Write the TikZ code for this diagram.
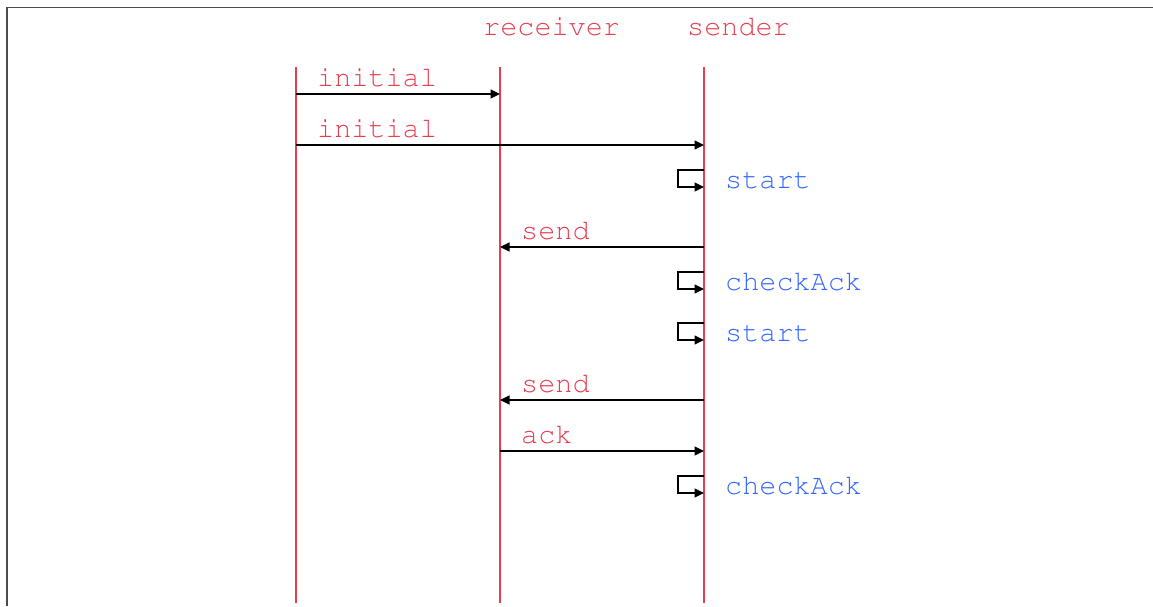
\documentclass[tikz,border=0pt]{standalone}
\usepackage[T1]{fontenc}
\usetikzlibrary{arrows.meta}
\definecolor{lifered}{RGB}{230,62,80}
\definecolor{selfblue}{RGB}{51,102,255}
\newcommand{\courfont}{\fontencoding{T1}\fontfamily{pcr}\fontseries{m}\fontshape{n}\fontsize{28.5}{32}\selectfont}
\begin{document}
\begin{tikzpicture}[x=1pt,y=-1pt,
  lifeline/.style={draw=lifered,line width=1.4pt},
  msg/.style={draw=black,line width=1.3pt,-{Triangle[length=9.5pt,width=9pt]}},
  msglabel/.style={font=\courfont,text=lifered,anchor=base west,inner sep=0pt},
  headlabel/.style={font=\courfont,text=lifered,anchor=base west,inner sep=0pt},
  selflabel/.style={font=\courfont,text=selfblue,anchor=base west,inner sep=0pt}]
\useasboundingbox (0,0) rectangle (1153,606);
% frame
\draw[draw=black!70,line width=1.6pt] (7,606) -- (7,7.5) -- (1153,7.5);
% lifelines
\coordinate (L1) at (296,67);
\coordinate (L2) at (500,67);
\coordinate (L3) at (704,67);
\coordinate (L1b) at (296,603);
\coordinate (L2b) at (500,603);
\coordinate (L3b) at (704,603);
\draw[lifeline] (L1) -- (L1b);
\draw[lifeline] (L2) -- (L2b);
\draw[lifeline] (L3) -- (L3b);
\node[headlabel] (hrecv) at (483,35) {receiver};
\node[headlabel] (hsend) at (687,35) {sender};
% rows
\coordinate (r1) at (0,94);
\coordinate (r2) at (0,145);
\coordinate (r3) at (0,196);
\coordinate (r4) at (0,247);
\coordinate (r5) at (0,298);
\coordinate (r6) at (0,349);
\coordinate (r7) at (0,400);
\coordinate (r8) at (0,451);
\coordinate (r9) at (0,502);
% messages
\draw[msg] (L1 |- r1) -- (L2 |- r1);
\node[msglabel] (m1) at (317,86) {initial};
\draw[msg] (L1 |- r2) -- (L3 |- r2);
\node[msglabel] (m2) at (317,137) {initial};
\draw[msg] (L3 |- r4) -- (L2 |- r4);
\node[msglabel] (m4) at (521,239) {send};
\draw[msg] (L3 |- r7) -- (L2 |- r7);
\node[msglabel] (m7) at (521,392) {send};
\draw[msg] (L2 |- r8) -- (L3 |- r8);
\node[msglabel] (m8) at (521,443) {ack};
% self messages
\foreach \r/\t [count=\i] in {r3/start,r5/checkAck,r6/start,r9/checkAck}{
  \draw[msg] ([yshift=26pt]L3 |- \r) -- ++(-26,0) -- ++(0,17) -- ++(26,0);
  \node[selflabel] (s\i) at ([xshift=21pt,yshift=8pt]L3 |- \r) {\t};
}
\end{tikzpicture}
\end{document}
